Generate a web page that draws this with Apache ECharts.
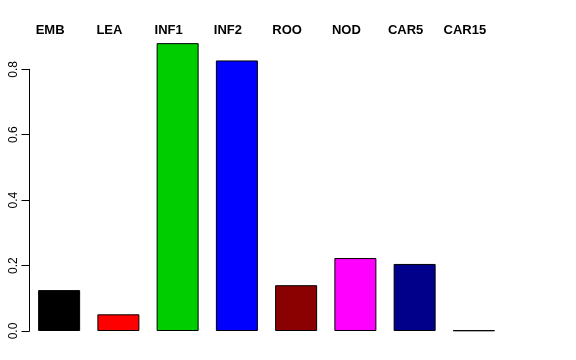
<!DOCTYPE html>
<html><head><meta charset="utf-8">
<script src="https://cdn.jsdelivr.net/npm/echarts@6/dist/echarts.min.js"></script>
<style>html,body{margin:0;padding:0;background:#fff}#c{width:576px;height:360px}</style>
</head><body><div id="c"></div>
<script>
const categories = ["EMB","LEA","INF1","INF2","ROO","NOD","CAR5","CAR15"];
const values = [0.125, 0.051, 0.880, 0.827, 0.140, 0.223, 0.205, 0.002];
const colors = ["#000000","#FF0000","#00CD00","#0000FF","#8B0000","#FF00FF","#00008B","#FFA500"];
const yTicks = [0, 0.2, 0.4, 0.6, 0.8];

const chart = echarts.init(document.getElementById('c'), null, {renderer:'canvas'});
const font = '"Liberation Sans", Arial, Helvetica, sans-serif';
chart.setOption({
  animation: false,
  backgroundColor: '#fff',
  grid: {left: 29.5, right: 72.5, top: 69.3, bottom: 29, containLabel: false},
  xAxis: [{
    type: 'category', data: categories, position: 'top',
    axisLine: {show: false}, axisTick: {show: false}, splitLine: {show: false},
    axisLabel: {show: true, margin: 32, fontFamily: font, fontWeight: 'bold', fontSize: 13, color: '#000',
      padding: [0, 18, 0, 0]}
  }],
  yAxis: {
    type: 'value', min: 0, max: 0.8, interval: 0.2,
    axisLine: {show: true, lineStyle: {color: '#000', width: 1}},
    axisTick: {show: true, length: 8, lineStyle: {color: '#000'}},
    splitLine: {show: false},
    axisLabel: {rotate: 90, margin: 10, fontFamily: font, fontSize: 12, color: '#000',
      formatter: v => v.toFixed(1)}
  },
  series: [{
    type: 'bar', clip: false, barWidth: 42,
    data: values.map((v, i) => ({value: v, itemStyle: {color: colors[i]}})),
    itemStyle: {borderColor: '#000', borderWidth: 1}
  }]
});
</script></body></html>
